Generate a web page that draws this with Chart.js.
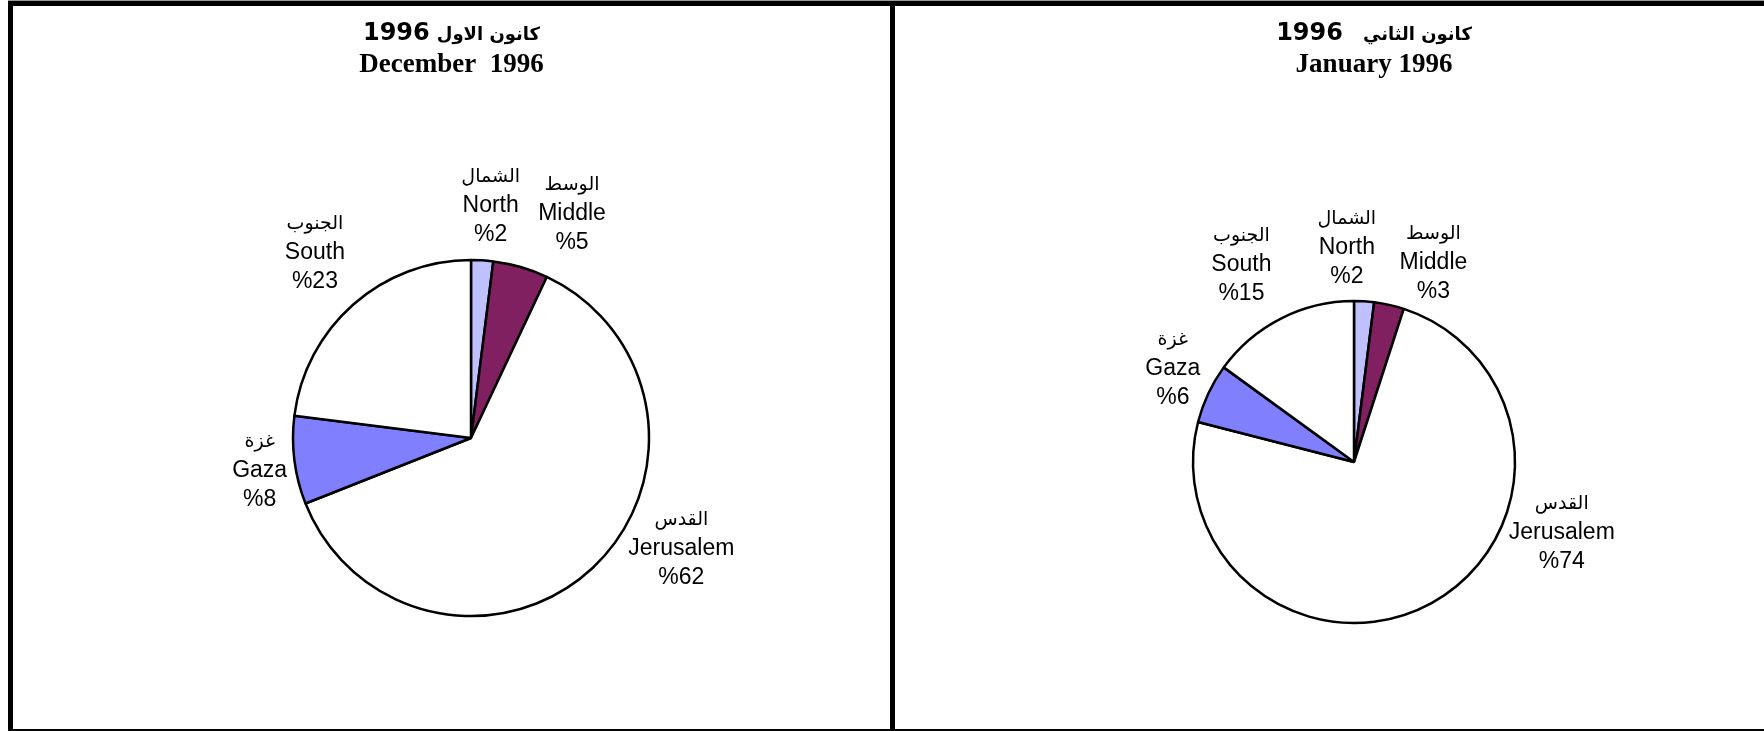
<!DOCTYPE html>
<html>
<head>
<meta charset="utf-8">
<script src="https://cdn.jsdelivr.net/npm/chart.js@4.4.1/dist/chart.umd.min.js"></script>
<style>
  html, body { margin: 0; padding: 0; background: #fff; overflow: hidden; width: 1764px; height: 731px; }
  #topline { position: absolute; left: 8px; top: 0; width: 1756px; height: 1px; background: #9a9a9a; }
  #frame { position: absolute; left: 8px; top: 1px; width: 2000px; height: 723px; border: 5px solid #000; border-right: none; }
  #divider { position: absolute; left: 890px; top: 1px; width: 5px; height: 733px; background: #000; }
  .panel { position: absolute; top: 6px; height: 723px; }
  #p1 { left: 13px; width: 877px; }
  #p2 { left: 895px; width: 958px; }
</style>
</head>
<body>
<div id="topline"></div>
<div id="frame"></div>
<div id="divider"></div>
<div class="panel" id="p1"><canvas id="dec-chart" width="877" height="723"></canvas></div>
<div class="panel" id="p2"><canvas id="jan-chart" width="958" height="723"></canvas></div>
<script>
// regions, clockwise from 12 o'clock
const regionsEn = ['North', 'Middle', 'Jerusalem', 'Gaza', 'South'];
const regionsAr = ['الشمال', 'الوسط', 'القدس', 'غزة', 'الجنوب'];
const dec1996 = [2, 5, 62, 8, 23];
const jan1996 = [2, 3, 74, 6, 15];
const sliceColors = ['#C0C0FF', '#802060', '#FFFFFF', '#8080FF', '#FFFFFF'];

// two line heading, centred on the whole panel (not on the pie)
// line 1 = big bold year on the left + arabic month on the right
const header = {
  id: 'header',
  afterDraw(chart, args, opts) {
    const ctx = chart.ctx;
    const cx = chart.width / 2;
    ctx.save();
    ctx.fillStyle = '#000';
    ctx.textBaseline = 'alphabetic';
    ctx.textAlign = 'left';
    const yearFont = 'bold 24px "DejaVu Sans"';
    const monthFont = 'bold 18px "DejaVu Sans"';
    ctx.font = yearFont;
    const wy = ctx.measureText(opts.year).width;
    ctx.font = monthFont;
    ctx.direction = 'rtl';
    const wm = ctx.measureText(opts.month).width;
    const x0 = cx - (wy + opts.gap + wm) / 2;
    ctx.fillText(opts.month, x0 + wy + opts.gap, 34);
    ctx.direction = 'ltr';
    ctx.font = yearFont;
    ctx.fillText(opts.year, x0, 34);
    ctx.textAlign = 'center';
    ctx.font = 'bold 27px "Liberation Serif"';
    ctx.fillText(opts.english, cx, 66);
    ctx.restore();
  }
};

// arabic name / english name / %value outside each slice
const sliceLabels = {
  id: 'sliceLabels',
  afterDatasetsDraw(chart, args, opts) {
    const ctx = chart.ctx;
    const meta = chart.getDatasetMeta(0);
    const values = chart.data.datasets[0].data;
    ctx.save();
    ctx.fillStyle = '#000';
    ctx.textAlign = 'center';
    ctx.textBaseline = 'alphabetic';
    meta.data.forEach((arc, i) => {
      const p = arc.getProps(['x', 'y', 'startAngle', 'endAngle', 'outerRadius']);
      const a = (p.startAngle + p.endAngle) / 2 + opts.nudge[i] * Math.PI / 180;
      const d = p.outerRadius * opts.dist[i];
      const x = p.x + Math.cos(a) * d;
      const y = p.y + Math.sin(a) * d;
      ctx.direction = 'rtl';
      ctx.font = '19px "DejaVu Sans"';
      ctx.fillText(regionsAr[i], x, y - 22);
      ctx.direction = 'ltr';
      ctx.font = '23px "Liberation Sans"';
      ctx.fillText(regionsEn[i], x, y + 8);
      ctx.fillText('%' + values[i], x, y + 37);
    });
    ctx.restore();
  }
};

function pieConfig(values, radius, padding, heading, labels) {
  return {
    type: 'pie',
    data: {
      labels: regionsEn,
      datasets: [{
        data: values,
        backgroundColor: sliceColors,
        borderColor: '#000',
        borderWidth: 2.5,
        hoverOffset: 0,
        radius: radius
      }]
    },
    options: {
      responsive: false,
      animation: false,
      layout: { padding: padding },
      plugins: {
        legend: { display: false },
        tooltip: { enabled: false },
        header: heading,
        sliceLabels: labels
      }
    },
    plugins: [header, sliceLabels]
  };
}

var decChart = new Chart(document.getElementById('dec-chart'), pieConfig(
  dec1996, 178,
  { left: 39, right: 0, top: 254, bottom: 113 },
  { year: '1996', month: 'كانون الاول', gap: 7, english: 'December  1996' },
  { nudge: [1.2, 7.9, -19.5, -1.1, 1.6], dist: [1.32, 1.39, 1.33, 1.2, 1.37] }
));

var janChart = new Chart(document.getElementById('jan-chart'), pieConfig(
  jan1996, 161,
  { left: 0, right: 40, top: 295, bottom: 106 },
  { year: '1996', month: 'كانون الثاني', gap: 20, english: 'January 1996' },
  { nudge: [-5.5, 9.0, -42.8, 2.4, -2.5], dist: [1.34, 1.34, 1.36, 1.27, 1.42] }
));
</script>
</body>
</html>
